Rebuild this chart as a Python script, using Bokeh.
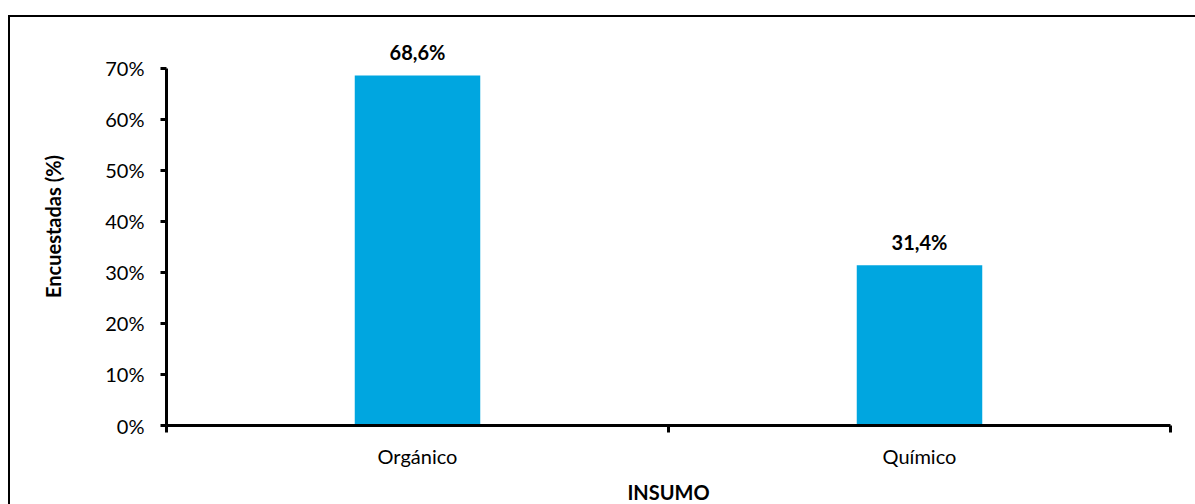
from bokeh.plotting import figure
from bokeh.models import ColumnDataSource, FixedTicker, Range1d, LabelSet
from bokeh.core.properties import value
from bokeh.embed import file_html
from bokeh.resources import INLINE

categories = ["Orgánico", "Químico"]
values = [0.686, 0.314]
value_labels = ["68,6%", "31,4%"]
y_ticks = [0.0, 0.1, 0.2, 0.3, 0.4, 0.5, 0.6, 0.7]
y_tick_labels = ["0%", "10%", "20%", "30%", "40%", "50%", "60%", "70%"]

xpos = [i + 0.5 for i in range(len(categories))]
src = ColumnDataSource(dict(x=xpos, top=values, lab=value_labels, cat=categories))

FONT = "Lato"
FS = "20px"

p = figure(width=1185, height=487, output_backend="svg", toolbar_location=None,
           x_range=Range1d(0, len(categories)), y_range=Range1d(0, 0.78),
           frame_width=1004, frame_height=398,
           min_border_left=156, min_border_top=10, min_border_right=25, min_border_bottom=79)
p.styles = {"border": "2px solid black", "margin-left": "8px", "margin-top": "15px"}
p.outline_line_color = None
p.grid.visible = False

p.vbar(x="x", top="top", width=0.25, bottom=0, source=src, fill_color="#00A6E0", line_color=None)

labels = LabelSet(x="x", y="top", text="lab", source=src, text_align="center", text_baseline="bottom",
                  y_offset=11, text_font=value(FONT), text_font_style="bold", text_font_size=FS,
                  text_color="black")
p.add_layout(labels)

# y axis
ya = p.yaxis[0]
ya.bounds = (0, 0.7)
ya.ticker = FixedTicker(ticks=y_ticks, minor_ticks=[])
ya.major_label_overrides = {t: l for t, l in zip(y_ticks, y_tick_labels)}
ya.axis_line_width = 3
ya.axis_line_color = "black"
ya.major_tick_line_width = 3
ya.major_tick_in = 0
ya.major_tick_out = 6
ya.major_label_text_font = FONT
ya.major_label_text_font_size = FS
ya.major_label_text_color = "black"
ya.major_label_standoff = 16
ya.axis_label = "Encuestadas (%)"
ya.axis_label_text_font = FONT
ya.axis_label_text_font_style = "bold"
ya.axis_label_text_font_size = FS
ya.axis_label_text_color = "black"
ya.axis_label_standoff = 37

# x axis
xa = p.xaxis[0]
xa.ticker = FixedTicker(ticks=xpos, minor_ticks=[float(i) for i in range(len(categories) + 1)])
xa.major_label_overrides = {x: c for x, c in zip(xpos, categories)}
xa.axis_line_width = 3
xa.axis_line_color = "black"
xa.major_tick_line_color = None
xa.minor_tick_line_width = 3
xa.minor_tick_line_color = "black"
xa.minor_tick_in = 0
xa.minor_tick_out = 7
xa.major_label_text_font = FONT
xa.major_label_text_font_size = FS
xa.major_label_text_color = "black"
xa.major_label_standoff = 11
xa.axis_label = "INSUMO"
xa.axis_label_text_font = FONT
xa.axis_label_text_font_style = "bold"
xa.axis_label_text_font_size = FS
xa.axis_label_text_color = "black"
xa.axis_label_standoff = 9

open("out.html", "w").write(file_html(p, INLINE))
